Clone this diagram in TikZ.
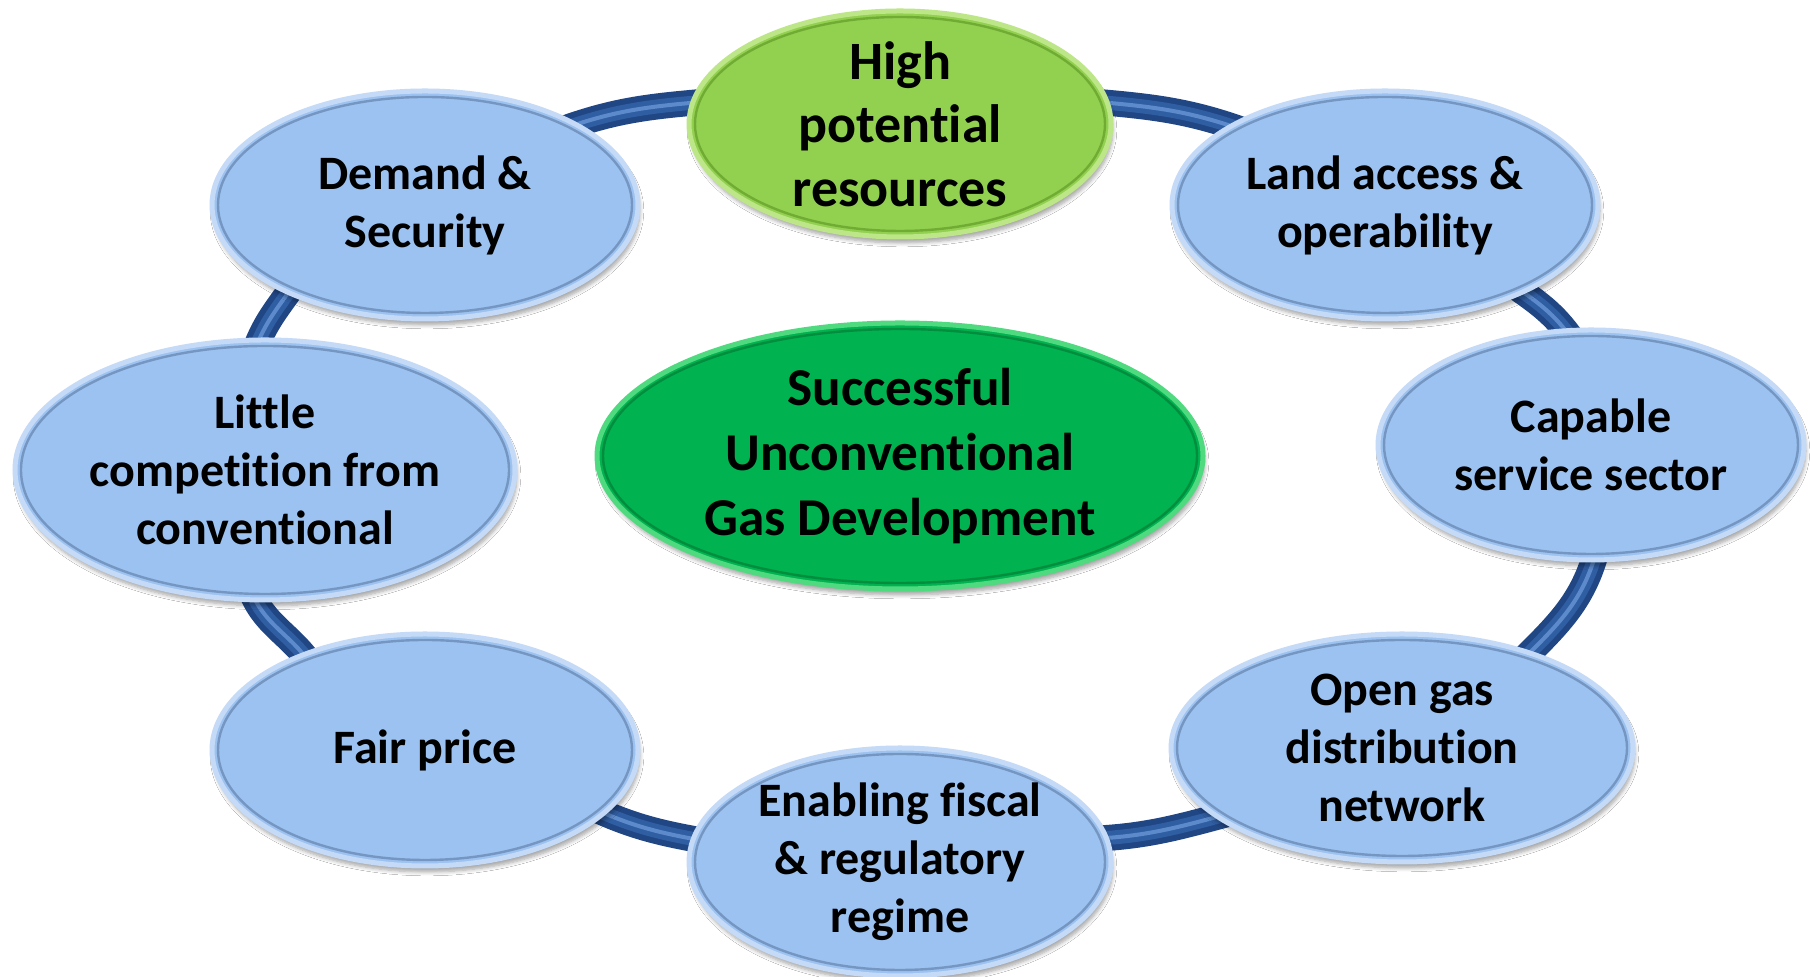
\documentclass[tikz,border=0pt]{standalone}
\usepackage{fontspec}
\setmainfont{Carlito}[Ligatures=CommonOff]
\usetikzlibrary{shapes.geometric,backgrounds,calc,shadows.blur}
\definecolor{bfill}{RGB}{155,194,240}
\definecolor{brim}{RGB}{196,218,246}
\definecolor{bline}{RGB}{118,150,194}
\definecolor{gfill}{RGB}{146,208,80}
\definecolor{grim}{RGB}{188,230,135}
\definecolor{gline}{RGB}{112,172,52}
\definecolor{cfill}{RGB}{0,178,80}
\definecolor{crim}{RGB}{80,218,128}
\definecolor{cline}{RGB}{0,142,62}
\definecolor{tdark}{RGB}{33,70,132}
\definecolor{tmid}{RGB}{48,94,163}
\definecolor{tlight}{RGB}{92,138,203}
\begin{document}
\begin{tikzpicture}[x=0.5pt,y=0.5pt,
  bubble/.style={ellipse, inner sep=-15pt, align=center, text=black, line width=2.5pt,
    blur shadow={shadow xshift=1pt, shadow yshift=-3pt, shadow opacity=35, shadow blur steps=6},
    path picture={
      \path (path picture bounding box.north east) coordinate (ppne)
            (path picture bounding box.center) coordinate (ppc);
      \draw[line width=1.2pt, draw=#1] let \p1=($(ppne)-(ppc)$) in
        (ppc) ellipse [x radius=\x1-3pt, y radius=\y1-3pt];}},
  bluebub/.style={bubble=bline, fill=bfill, draw=brim,
    font=\fontsize{24}{29}\selectfont\bfseries},
  greenbub/.style={bubble=gline, fill=gfill, draw=grim,
    font=\fontsize{27}{31.8}\selectfont\bfseries},
  corebub/.style={bubble=cline, fill=cfill, draw=crim,
    font=\fontsize{26.6}{32.5}\selectfont\bfseries},
  tube/.style={draw=tdark, line width=13pt, line cap=butt,
    postaction={draw=tmid, line width=7pt},
    postaction={draw=tlight, line width=2pt}}]

\useasboundingbox (0,0) rectangle (1810,977);

\node[greenbub, minimum width=211pt, minimum height=113pt] (high) at (900,853) {High\\potential\\resources};
\node[bluebub, minimum width=213pt, minimum height=114pt] (demand) at (425,772) {Demand \&\\Security};
\node[bluebub, minimum width=213pt, minimum height=114pt] (land) at (1385,772) {Land access \&\\operability};
\node[bluebub, minimum width=250pt, minimum height=130pt] (little) at (265,507) {Little\\competition from\\conventional};
\node[bluebub, minimum width=213pt, minimum height=115pt] (capable) at (1591,532) {Capable\\service sector};
\node[bluebub, minimum width=231pt, minimum height=114pt] (open) at (1402,229) {Open gas\\distribution\\network};
\node[bluebub, minimum width=211pt, minimum height=114pt] (enabling) at (900,115) {Enabling fiscal\\\& regulatory\\regime};
\node[bluebub, minimum width=213pt, minimum height=116pt] (fair) at (425,227) {Fair price};
\node[corebub, minimum width=303pt, minimum height=133pt] (core) at (900,521) {Successful\\Unconventional\\Gas Development};

\begin{pgfonlayer}{background}
\fill[white] (0,0) rectangle (1810,977);
\draw[tube] ($(demand.center)!0.9!(demand.29)$) to[out=20,in=185] ($(high.center)!0.9!(high.173)$);
\draw[tube] ($(high.center)!0.9!(high.7)$) to[out=-5,in=160] ($(land.center)!0.9!(land.152)$);
\draw[tube] ($(land.center)!0.9!(land.-32)$) to[out=-35,in=125] ($(capable.center)!0.9!(capable.100)$);
\draw[tube] ($(capable.center)!0.9!(capable.-87)$) to[out=-105,in=45] ($(open.center)!0.9!(open.36)$);
\draw[tube] ($(open.center)!0.9!(open.201)$) to[out=195,in=2] ($(enabling.center)!0.9!(enabling.7)$);
\draw[tube] ($(enabling.center)!0.9!(enabling.174)$) to[out=170,in=-25] ($(fair.center)!0.9!(fair.-19)$);
\draw[tube] ($(fair.center)!0.9!(fair.143)$) to[out=125,in=-70] ($(little.center)!0.9!(little.-97)$);
\draw[tube] ($(little.center)!0.9!(little.95)$) to[out=70,in=235] ($(demand.center)!0.9!(demand.211)$);
\end{pgfonlayer}
\end{tikzpicture}
\end{document}
